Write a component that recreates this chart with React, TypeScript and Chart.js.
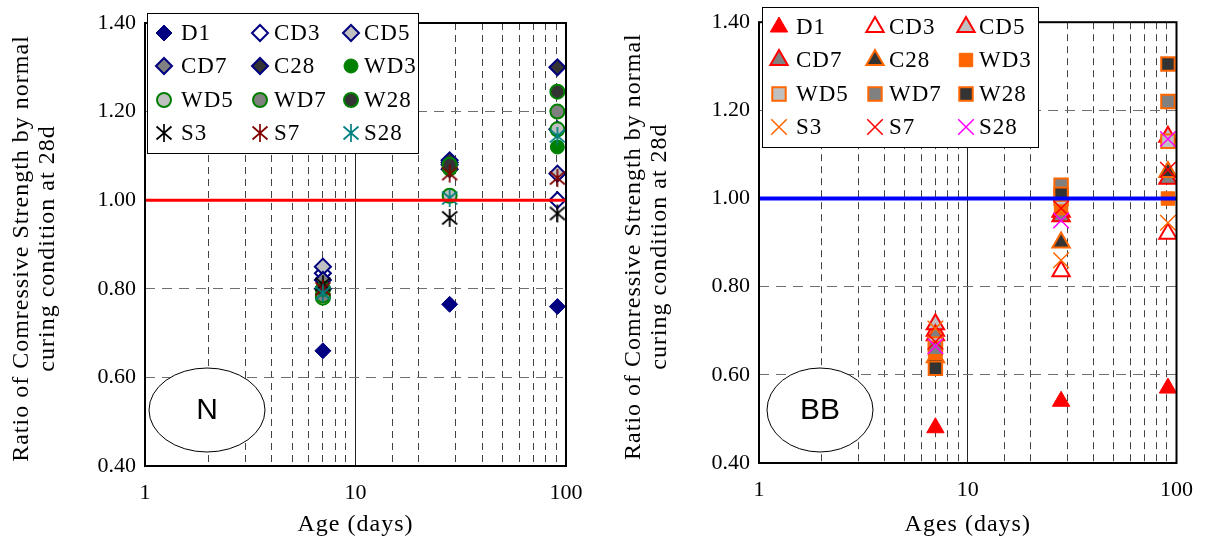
import React, { useEffect, useRef } from 'react';
import { Chart, registerables } from 'chart.js';
import { drawPoint } from 'chart.js/helpers';

Chart.register(...registerables);

// ---------- data ----------
const days = [7, 28, 91];
const seriesNames = ['D1', 'CD3', 'CD5', 'CD7', 'C28', 'WD3', 'WD5', 'WD7', 'W28', 'S3', 'S7', 'S28'];
const xTickLabels = [1, 10, 100];
const refLineX = [1, 100];
const refValue = 1.0;
const yTitleLines = ['Ratio of Comressive Strength by normal', 'curing condition at 28d'];

// Chart N
const nD1 = [0.66, 0.765, 0.76];
const nCD3 = [0.835, 1.07, 1.0];
const nCD5 = [0.85, 1.08, 1.06];
const nCD7 = [0.82, 1.085, 1.16];
const nC28 = [0.8, 1.09, 1.3];
const nWD3 = [0.79, 1.07, 1.12];
const nWD5 = [0.78, 1.01, 1.16];
const nWD7 = [0.785, 1.075, 1.2];
const nW28 = [0.8, 1.08, 1.245];
const nS3 = [0.81, 0.96, 0.97];
const nS7 = [0.8, 1.06, 1.05];
const nS28 = [0.79, 1.005, 1.145];

// Chart BB
const bD1 = [0.48, 0.54, 0.57];
const bCD3 = [0.7, 0.835, 0.92];
const bCD5 = [0.715, 0.97, 1.14];
const bCD7 = [0.69, 0.96, 1.045];
const bC28 = [0.64, 0.9, 1.06];
const bWD3 = [0.65, 0.978, 1.0];
const bWD5 = [0.67, 1.0, 1.13];
const bWD7 = [0.66, 1.03, 1.22];
const bW28 = [0.615, 1.01, 1.305];
const bS3 = [0.705, 0.86, 0.945];
const bS7 = [0.675, 0.978, 1.065];
const bS28 = [0.665, 0.95, 1.135];

const nValues = [nD1, nCD3, nCD5, nCD7, nC28, nWD3, nWD5, nWD7, nW28, nS3, nS7, nS28];
const bValues = [bD1, bCD3, bCD5, bCD7, bC28, bWD3, bWD5, bWD7, bW28, bS3, bS7, bS28];

// ---------- styles ----------
const SERIF = "'Liberation Serif', 'Times New Roman', serif";
const SANS = "'Liberation Sans', Arial, sans-serif";
const NAVY = '#000080';
const GREEN = '#008000';
const ORANGE = '#FF6600';
const RED = '#FF0000';
const LIGHT = '#C0C0C0';
const MID = '#808080';
const DARK = '#333333';

function makeAsterisk(color: string): HTMLCanvasElement {
  const c = document.createElement('canvas');
  c.width = 20;
  c.height = 20;
  const g = c.getContext('2d')!;
  g.strokeStyle = color;
  g.lineWidth = 1.7;
  g.beginPath();
  g.moveTo(10, 1);
  g.lineTo(10, 19);
  g.moveTo(2.5, 3.5);
  g.lineTo(17.5, 16.5);
  g.moveTo(17.5, 3.5);
  g.lineTo(2.5, 16.5);
  g.stroke();
  return c;
}

type Sty = { pointStyle: any; radius: number; fill: string; stroke: string; width: number };

function nStyles(): Sty[] {
  return [
    { pointStyle: 'rectRot', radius: 8, fill: NAVY, stroke: NAVY, width: 1 },
    { pointStyle: 'rectRot', radius: 8, fill: '#FFFFFF', stroke: NAVY, width: 2 },
    { pointStyle: 'rectRot', radius: 8, fill: LIGHT, stroke: NAVY, width: 2 },
    { pointStyle: 'rectRot', radius: 8, fill: MID, stroke: NAVY, width: 2 },
    { pointStyle: 'rectRot', radius: 8, fill: DARK, stroke: NAVY, width: 2 },
    { pointStyle: 'circle', radius: 7, fill: GREEN, stroke: GREEN, width: 1 },
    { pointStyle: 'circle', radius: 7, fill: LIGHT, stroke: GREEN, width: 2 },
    { pointStyle: 'circle', radius: 7, fill: MID, stroke: GREEN, width: 2 },
    { pointStyle: 'circle', radius: 7, fill: DARK, stroke: GREEN, width: 2 },
    { pointStyle: makeAsterisk('#000000'), radius: 9, fill: '#000', stroke: '#000', width: 1 },
    { pointStyle: makeAsterisk('#800000'), radius: 9, fill: '#800000', stroke: '#800000', width: 1 },
    { pointStyle: makeAsterisk('#008080'), radius: 9, fill: '#008080', stroke: '#008080', width: 1 },
  ];
}

function bStyles(): Sty[] {
  return [
    { pointStyle: 'triangle', radius: 10, fill: RED, stroke: RED, width: 1 },
    { pointStyle: 'triangle', radius: 10, fill: '#FFFFFF', stroke: RED, width: 2 },
    { pointStyle: 'triangle', radius: 10, fill: LIGHT, stroke: RED, width: 2 },
    { pointStyle: 'triangle', radius: 10, fill: MID, stroke: RED, width: 2 },
    { pointStyle: 'triangle', radius: 10, fill: DARK, stroke: ORANGE, width: 2 },
    { pointStyle: 'rect', radius: 9.5, fill: ORANGE, stroke: ORANGE, width: 1 },
    { pointStyle: 'rect', radius: 9.5, fill: LIGHT, stroke: ORANGE, width: 2 },
    { pointStyle: 'rect', radius: 9.5, fill: MID, stroke: ORANGE, width: 2 },
    { pointStyle: 'rect', radius: 9.5, fill: DARK, stroke: ORANGE, width: 2 },
    { pointStyle: 'crossRot', radius: 11, fill: ORANGE, stroke: ORANGE, width: 1.5 },
    { pointStyle: 'crossRot', radius: 11, fill: RED, stroke: RED, width: 1.5 },
    { pointStyle: 'crossRot', radius: 11, fill: '#FF00FF', stroke: '#FF00FF', width: 1.5 },
  ];
}

type Cfg = {
  values: number[][];
  styles: Sty[];
  refColor: string;
  refWidth: number;
  xTitle: string;
  xTitleY: number;
  yTitleX: number[];
  yAxisW: number;
  xAxisH: number;
  padTop: number;
  padRight: number;
  legend: { dx: number; top: number; w: number; h: number };
  ellipse: { dx: number; dy: number; rx: number; ry: number; text: string };
};

function makeChart(canvas: HTMLCanvasElement, cfg: Cfg) {
  const datasets: any[] = cfg.values.map((vals, i) => {
    const s = cfg.styles[i];
    return {
      label: seriesNames[i],
      data: days.map((d, j) => ({ x: d, y: vals[j] })),
      showLine: false,
      pointStyle: s.pointStyle,
      pointRadius: s.radius,
      pointHoverRadius: s.radius,
      pointBackgroundColor: s.fill,
      pointBorderColor: s.stroke,
      pointBorderWidth: s.width,
      order: 100 - i,
    };
  });
  datasets.push({
    label: 'ref',
    data: refLineX.map((x) => ({ x, y: refValue })),
    showLine: true,
    borderColor: cfg.refColor,
    borderWidth: cfg.refWidth,
    pointRadius: 0,
    order: -1,
  });

  const tickFont = { family: SERIF, size: 22 };
  const is10 = (v: number) => Math.abs(v - 10) < 1e-6;

  const deco = {
    id: 'deco',
    afterDraw(chart: any) {
      const { ctx, chartArea: a } = chart;
      ctx.save();
      ctx.setLineDash([]);
      ctx.strokeStyle = '#000';
      ctx.lineWidth = 2;
      ctx.strokeRect(a.left, a.top, a.right - a.left, a.bottom - a.top);

      // axis titles
      ctx.fillStyle = '#000';
      ctx.font = `24px ${SERIF}`;
      (ctx as any).letterSpacing = '1px';
      ctx.textAlign = 'center';
      ctx.textBaseline = 'middle';
      ctx.fillText(cfg.xTitle, (a.left + a.right) / 2, cfg.xTitleY);
      yTitleLines.forEach((line, i) => {
        ctx.save();
        ctx.translate(cfg.yTitleX[i], (a.top + a.bottom) / 2 + 4);
        ctx.rotate(-Math.PI / 2);
        ctx.fillText(line, 0, 0);
        ctx.restore();
      });

      // legend
      const L = cfg.legend;
      const bx = a.left + L.dx;
      const by = L.top;
      ctx.fillStyle = '#fff';
      ctx.fillRect(bx, by, L.w, L.h);
      ctx.lineWidth = 1;
      ctx.strokeStyle = '#000';
      ctx.strokeRect(bx + 0.5, by + 0.5, L.w, L.h);
      const markX = [17, 113, 204];
      const textX = [34, 127, 217];
      const rowY = [20, 53, 87, 120];
      ctx.font = `23px ${SERIF}`;
      (ctx as any).letterSpacing = '1px';
      ctx.textBaseline = 'middle';
      ctx.textAlign = 'left';
      seriesNames.forEach((name, i) => {
        const r = Math.floor(i / 3);
        const c = i % 3;
        const s = cfg.styles[i];
        ctx.save();
        ctx.fillStyle = s.fill;
        ctx.strokeStyle = s.stroke;
        ctx.lineWidth = s.width;
        drawPoint(ctx, { pointStyle: s.pointStyle, radius: s.radius, borderWidth: s.width, rotation: 0 } as any, bx + markX[c], by + rowY[r]);
        ctx.restore();
        ctx.fillStyle = '#000';
        ctx.fillText(name, bx + textX[c], by + rowY[r] + 1);
      });
      (ctx as any).letterSpacing = '0px';

      // ellipse annotation
      const E = cfg.ellipse;
      ctx.beginPath();
      ctx.ellipse(a.left + E.dx, a.bottom - E.dy, E.rx, E.ry, 0, 0, Math.PI * 2);
      ctx.fillStyle = '#fff';
      ctx.fill();
      ctx.lineWidth = 1;
      ctx.strokeStyle = '#000';
      ctx.stroke();
      ctx.fillStyle = '#000';
      ctx.font = `30px ${SANS}`;
      ctx.textAlign = 'center';
      ctx.textBaseline = 'middle';
      ctx.fillText(E.text, a.left + E.dx, a.bottom - E.dy + 1);
      ctx.restore();
    },
  };

  return new Chart(canvas, {
    type: 'line',
    data: { datasets },
    options: {
      responsive: false,
      animation: false,
      events: [],
      layout: { padding: { left: 0, right: cfg.padRight, top: cfg.padTop, bottom: 0 } },
      plugins: { legend: { display: false }, tooltip: { enabled: false } },
      scales: {
        x: {
          type: 'logarithmic',
          min: 1,
          max: 100,
          afterFit: (s: any) => {
            s.height = cfg.xAxisH;
          },
          ticks: {
            autoSkip: false,
            maxRotation: 0,
            padding: 14,
            color: '#000',
            font: tickFont,
            callback: (v: any) => (xTickLabels.some((t) => Math.abs(t - Number(v)) < 1e-6) ? String(Math.round(Number(v))) : ''),
          },
          grid: {
            drawTicks: false,
            lineWidth: 1,
            color: (c: any) => (c.tick && is10(c.tick.value) ? '#222' : '#444'),
          },
          border: {
            display: false,
            dash: (c: any) => (c.tick && is10(c.tick.value) ? [] : [7, 5]),
          },
          title: { display: false },
        },
        y: {
          min: 0.4,
          max: 1.4,
          afterFit: (s: any) => {
            s.width = cfg.yAxisW;
          },
          ticks: {
            stepSize: 0.2,
            padding: 9,
            color: '#000',
            font: tickFont,
            callback: (v: any) => Number(v).toFixed(2),
          },
          grid: { drawTicks: false, lineWidth: 1, color: '#707070' },
          border: { display: false, dash: [10, 7] },
          title: { display: false },
        },
      },
    },
    plugins: [deco],
  } as any);
}

function Panel({ cfg, left }: { cfg: () => Cfg; left: number }) {
  const ref = useRef<HTMLCanvasElement>(null);
  useEffect(() => {
    const ch = makeChart(ref.current!, cfg());
    return () => ch.destroy();
  }, []);
  return (
    <canvas
      ref={ref}
      width={603}
      height={543}
      style={{ position: 'absolute', left, top: 0, width: 603, height: 543 }}
    />
  );
}

const nCfg = (): Cfg => ({
  values: nValues,
  styles: nStyles(),
  refColor: '#FF0000',
  refWidth: 3,
  xTitle: 'Age (days)',
  xTitleY: 525,
  yTitleX: [22, 48],
  yAxisW: 145,
  xAxisH: 77,
  padTop: 23,
  padRight: 37,
  legend: { dx: 2, top: 13, w: 271, h: 140 },
  ellipse: { dx: 62, dy: 56, rx: 58, ry: 42, text: 'N' },
});

const bCfg = (): Cfg => ({
  values: bValues,
  styles: bStyles(),
  refColor: '#0000FF',
  refWidth: 4,
  xTitle: 'Ages (days)',
  xTitleY: 525,
  yTitleX: [30, 56],
  yAxisW: 155,
  xAxisH: 80,
  padTop: 20,
  padRight: 27,
  legend: { dx: 3, top: 7, w: 276, h: 140 },
  ellipse: { dx: 61, dy: 53, rx: 53, ry: 42, text: 'BB' },
});

export default function App() {
  return (
    <div style={{ position: 'absolute', left: 0, top: 0, width: 1207, height: 543, background: '#fff' }}>
      <Panel cfg={nCfg} left={0} />
      <Panel cfg={bCfg} left={604} />
    </div>
  );
}
